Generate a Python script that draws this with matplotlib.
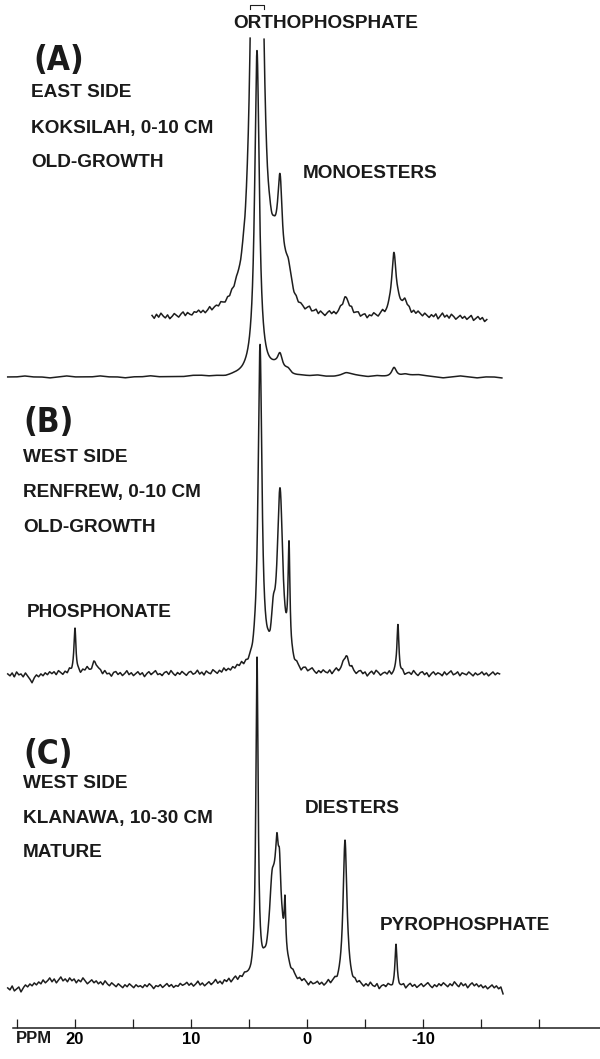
import matplotlib
matplotlib.use("Agg")
import matplotlib.pyplot as plt
import numpy as np

plt.rcParams['font.family'] = ['Liberation Sans', 'DejaVu Sans']
plt.rcParams['font.weight'] = 'bold'

# peak tables: position (ppm), height (px above the
# trace baseline), half width (ppm)

# (A) Koksilah, full spectrum; the upper trace is the same spectrum x6
a_ppm = [4.31, 2.33, 1.64, 2.8, -3.36, -7.5, -8.45]
a_height = [325, 15, 4.5, 5, 2.5, 10, 2]
a_width = [0.24, 0.25, 0.3, 0.7, 0.4, 0.25, 0.4]
a_expand = 6

# (B) Renfrew
b_ppm = [20.0, 18.28, 4.05, 2.33, 2.9, 1.55, -3.36, -7.84]
b_height = [44, 12, 322, 175, 30, 108, 18, 48]
b_width = [0.1, 0.3, 0.2, 0.3, 0.2, 0.1, 0.3, 0.1]

# (C) Klanawa
c_ppm = [4.31, 2.6, 3.02, 2.59, 2.37, 1.9, -3.28, -7.67]
c_height = [318, 95, 50, 35, 40, 50, 145, 40]
c_width = [0.12, 0.55, 0.25, 0.12, 0.12, 0.08, 0.2, 0.1]

# ppm range of each trace
a_full_span = (25.8, -16.8)
a_exp_span = (13.36, -15.5)
b_span = (25.8, -16.6)
c_span = (25.8, -16.9)

# baseline wiggle (px), left to right
a_full_noise = [0, 0, 1, 0, 0, -1, 0, 1, 0, 0, 0, 1, 0, 0, -1, 0, 0, 1, 0, 0,
                0, 0, 1, 1, 0, 0, -1, 0, 0, 1, 0, 0, 1, 0, -1, 0, 0, 1, 0, 0,
                1, 2, 1, 0, 1, 0, -1, 0, 1, 2, 1, 0, -1, 0, 1, 0, -1, 0, 0, -1]
a_exp_noise = [1, -2, 2, -1, 3, 0, -2, 1, -3, -1, 2, 0, -2, 1, 3, -1, 2, 0, -1, 2,
               1, 3, 0, 2, -1, 1, 4, 0, 2, 3, 1, 4, 2, 0, 3, 1, 4, 2, 5, 3,
               1, 3, 0, 2, 1, 0, 2, -1, 1, 0, 2, 1, -1, 2, 0, 3, 1, -1, 2, 0,
               2, -1, 1, 3, 0, 2, -1, 1, 0, -2, 1, 3, -1, 0, 2, -2, 1, -1, -3, 0,
               2, -1, 1, -2, 0, 3, 1, 4, 2, 0, 3, -1, 1, 2, -2, 0, 1, -3, 0, -1,
               2, 0, -2, 1, 3, -1, 0, 2, 1, 3, 0, 4, 2, 1, 3, 0, 2, -1, 3, 1,
               4, 2, 0, 3, 1, -1, 2, 0, 3, -2, 1, 4, 0, 2, -1, 3, 1, -2, 0, 2,
               -1, 1, -2, 0, 2, -3, -1, 1, -2, 0, -4, -2]
b_noise = [0, -2, 1, -3, 2, -1, 0, -3, 1, -2, -5, -9, -4, -1, -3, 0, -2, 1, -1, 2,
           0, 2, -1, 3, 1, -1, 2, 0, 4, 1, 3, 0, 2, -1, 3, 2, 5, 1, -1, 2,
           -2, 0, 1, -2, 2, -1, 0, -3, 1, 2, -1, 1, -2, 0, 3, -1, 1, -2, 0, 2,
           -1, 1, -3, 0, 2, -1, 1, 3, -1, 0, -2, 1, 2, -1, 3, 0, -2, 1, -1, 2,
           0, -2, 1, 2, -1, 0, 3, -1, 1, -2, 2, 0, -1, 3, 1, -1, 2, 0, 4, 1,
           3, 1, 4, 2, 5, 3, 6, 2, 4, 1, 3, 0, 2, -1, 1, 2, -1, 0, 1, -2,
           2, 0, -1, 1, 3, -1, 0, 2, -2, 1, -1, 2, 0, -3, 1, 2, -1, 1, 3, 0,
           -2, 1, -1, 2, 0, -1, 2, -2, 1, 3, -1, 0, 2, -2, 1, -1, 3, 0, -2, 1,
           2, -1, 1, -3, 0, 2, -1, 3, 1, -2, 0, 1, -1, 2, -2, 0, 3, 1, -1, 2,
           -2, 0, 1, -1, 3, 0, -2, 1, 2, -1, 1, -3, 0, 2, -1, 1, 0, -2, 2, -1,
           1, 3, -1, 0, 2, -2, 1, 0, -1, 2, 0, -2, 1, -1, 0, 2, -1, 1, -2, 0,
           2, -1, 1, 0]
c_noise = [-1, -3, 1, -4, -2, 0, -5, -1, 2, 0, 3, 1, 4, 2, 5, 3, 7, 4, 6, 9,
           5, 8, 4, 7, 10, 6, 8, 5, 9, 6, 8, 4, 7, 5, 9, 6, 3, 5, 7, 4,
           6, 3, 5, 2, 6, 3, 1, 4, 2, 0, 3, 1, -1, 2, 0, 3, 1, -1, 2, 0,
           1, -1, 2, 0, 3, 1, -2, 1, 0, 2, -1, 1, 3, 0, 2, -1, 1, 0, 3, 1,
           2, 4, 1, 3, 0, 2, 5, 1, 3, 0, 2, 4, 1, 3, 6, 2, 4, 1, 5, 3,
           6, 2, 5, 7, 3, 6, 4, 7, 5, 3, 1, 2, 0, 1, -1, 0, 2, -1, 1, 0,
           -2, 1, 0, -1, 2, -2, 0, 1, -1, 2, 0, -2, 1, -1, 2, 0, -3, 1, -1, 0,
           2, -1, 1, -2, 0, 3, -1, 1, 2, -2, 0, 1, 3, -1, 2, 0, -2, 1, -1, 2,
           0, -2, 1, -1, 3, 0, -1, 2, -3, 0, 1, -1, 2, 0, -2, 1, 3, -1, 0, 2,
           -2, 1, 3, 0, 2, -1, 1, 3, 0, 2, 4, 1, -1, 2, 0, 3, 1, 4, 2, 0,
           3, 1, 5, 2, 0, 4, 1, 3, -1, 2, 4, 1, 3, 0, 2, -1, 1, -2, 0, 2,
           -1, 1, -2, 0, -7]


def spectrum(ppm, height, width, span, noise, scale=1.0):
    x = np.linspace(span[0], span[1], 5000)
    grid = np.linspace(span[0], span[1], len(noise))
    y = np.interp(-x, -grid, noise)
    for p, h, w in zip(ppm, height, width):
        y = y + scale * h * w**2 / ((x - p)**2 + w**2)
    return x, y


fig = plt.figure(figsize=(6, 10.59), dpi=100)
ax = fig.add_axes([0, 0, 1, 1])
# x in ppm (11.6 px per ppm, 0 ppm at x=307 px), y in px from the top
ax.set_xlim(307 / 11.6, (307 - 600) / 11.6)
ax.set_ylim(1059, 0)

ink = '#1e1e1e'
lw = 1.1

# (A) expanded, clipped at the top
x, y = spectrum(a_ppm, a_height, a_width, a_exp_span, a_exp_noise, a_expand)
ytop = 318 - y
clipped = ytop < 38
bx = x[clipped]
ytop[clipped] = np.nan
ax.plot(x, ytop, color=ink, lw=lw)
ax.plot([bx.max(), bx.max(), bx.min(), bx.min()], [9, 5, 5, 9], color=ink, lw=0.8)

# (A) full
x, y = spectrum(a_ppm, a_height, a_width, a_full_span, a_full_noise)
ax.plot(x, 377 - y, color=ink, lw=lw)

# (B)
x, y = spectrum(b_ppm, b_height, b_width, b_span, b_noise)
ax.plot(x, 674 - y, color=ink, lw=lw)

# (C)
x, y = spectrum(c_ppm, c_height, c_width, c_span, c_noise)
ax.plot(x, 987 - y, color=ink, lw=lw)

# ppm axis
for s in ['top', 'left', 'right']:
    ax.spines[s].set_visible(False)
ax.spines['bottom'].set_position(('data', 1028))
ax.spines['bottom'].set_bounds((307 - 13) / 11.6, (307 - 600) / 11.6)
ax.spines['bottom'].set_linewidth(1.1)
ax.spines['bottom'].set_color(ink)
ax.set_yticks([])
ax.set_xticks([25, 20, 15, 10, 5, 0, -5, -10, -15, -20])
ax.set_xticklabels(['', '20', '', '10', '', '0', '', '-10', '', ''])
ax.tick_params(axis='x', direction='in', length=6.5, width=0.9, color=ink,
               pad=3, labelsize=12)

# labels
def label(px, py, s, size=13.7, **kw):
    fig.text(px / 600, 1 - py / 1059, s, fontsize=size, fontweight='bold',
             va='baseline', ha='left', color='#1a1a1a', **kw)

for px, py, s in [(33, 70, '(A)'), (23, 432, '(B)'), (23, 764, '(C)')]:
    label(px, py, s, 24, family='DejaVu Sans', fontstretch='condensed')

label(31, 97, 'EAST SIDE')
label(31, 133, 'KOKSILAH, 0-10 CM')
label(31, 167, 'OLD-GROWTH')
label(233, 28, 'ORTHOPHOSPHATE')
label(303, 178, 'MONOESTERS')

label(23, 462, 'WEST SIDE')
label(23, 497, 'RENFREW, 0-10 CM')
label(23, 532, 'OLD-GROWTH')
label(27, 617, 'PHOSPHONATE')

label(23, 788, 'WEST SIDE')
label(23, 823, 'KLANAWA, 10-30 CM')
label(23, 857, 'MATURE')
label(305, 813, 'DIESTERS')
label(380, 930, 'PYROPHOSPHATE')

label(16, 1043, 'PPM', 12)

fig.savefig('out.png', dpi=100)
